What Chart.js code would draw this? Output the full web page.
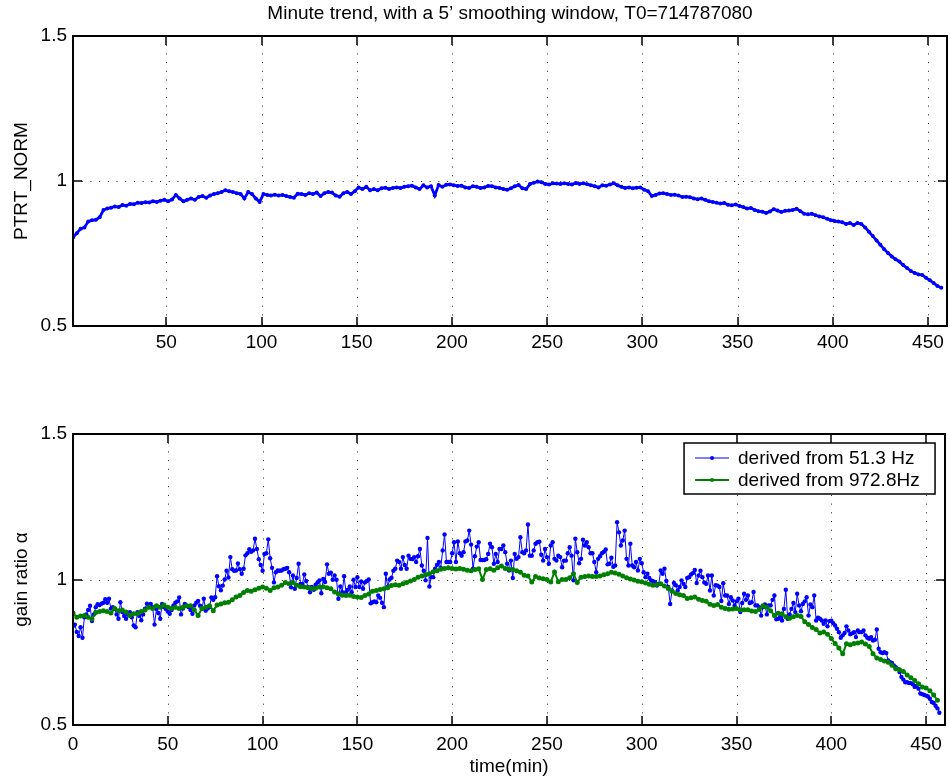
<!DOCTYPE html>
<html><head><meta charset="utf-8">
<script src="https://cdn.jsdelivr.net/npm/chart.js@4.4.1/dist/chart.umd.min.js"></script>
<style>
html,body{margin:0;padding:0;background:#fff;width:950px;height:781px;overflow:hidden}
#w1{position:absolute;left:0;top:0;width:950px;height:360px}
#w2{position:absolute;left:0;top:380px;width:950px;height:401px}
</style></head><body>
<div id="w1"><canvas id="c1"></canvas></div>
<div id="w2"><canvas id="c2"></canvas></div>
<script>
// ---------- DATA ----------
const chartTitle = "Minute trend, with a 5\u2019 smoothing window, T0=714787080";
const topYLabel = "PTRT_NORM";
const bottomYLabel = "gain ratio \u03b1";
const bottomXLabel = "time(min)";
const seriesNames = ["derived from 51.3 Hz", "derived from 972.8Hz"];

const xTicksTop = [50, 100, 150, 200, 250, 300, 350, 400, 450];
const xTicksBottom = [0, 50, 100, 150, 200, 250, 300, 350, 400, 450];
const yTicks = [0.5, 1, 1.5];
const yTickLabels = ["0.5", "1", "1.5"];

// top panel: minutes and PTRT_NORM
const topMinutes = [
  1,3,5,7,9,11,13,15,17,19,
  21,23,25,27,29,31,33,35,37,39,41,43,45,47,49,
  51,53,55,57,59,61,63,65,67,69,71,73,75,77,79,81,83,85,87,89,91,93,95,97,99,
  101,103,105,107,109,111,113,115,117,119,121,123,125,127,129,131,133,135,137,139,141,143,145,147,149,
  151,153,155,157,159,161,163,165,167,169,171,173,175,177,179,181,183,185,187,189,191,193,195,197,199,
  201,203,205,207,209,211,213,215,217,219,221,223,225,227,229,231,233,235,237,239,241,243,245,247,249,
  251,253,255,257,259,261,263,265,267,269,271,273,275,277,279,281,283,285,287,289,291,293,295,297,299,
  301,303,305,307,309,311,313,315,317,319,321,323,325,327,329,331,333,335,337,339,341,343,345,347,349,
  351,353,355,357,359,361,363,365,367,369,371,373,375,377,379,381,383,385,387,389,391,393,395,397,399,
  401,403,405,407,409,411,413,415,417,419,421,423,425,427,429,431,433,435,437,439,441,443,445,447,449,451,453,455,457
];
const ptrtNorm = [
  0.805,0.82,0.835,0.84,0.86,0.865,0.866,0.875,0.90,0.905,
  0.908,0.912,0.91,0.917,0.915,0.921,0.92,0.925,0.924,0.927,0.926,0.93,0.928,0.932,0.935,
  0.93,0.936,0.952,0.94,0.93,0.935,0.94,0.935,0.945,0.948,0.942,0.95,0.955,0.958,0.962,0.968,0.965,0.962,0.958,0.955,0.94,0.962,0.955,0.94,0.928,
  0.955,0.952,0.95,0.953,0.95,0.952,0.948,0.945,0.942,0.956,0.955,0.952,0.958,0.955,0.96,0.948,0.958,0.962,0.96,0.95,0.946,0.958,0.962,0.955,0.965,
  0.978,0.972,0.98,0.968,0.972,0.968,0.975,0.977,0.972,0.976,0.978,0.976,0.98,0.982,0.984,0.978,0.972,0.985,0.978,0.982,0.95,0.986,0.98,0.987,0.988,
  0.985,0.983,0.984,0.978,0.976,0.982,0.98,0.976,0.978,0.983,0.982,0.978,0.976,0.972,0.97,0.975,0.982,0.986,0.975,0.972,0.99,0.994,0.998,0.996,0.99,
  0.988,0.992,0.991,0.99,0.992,0.99,0.988,0.993,0.99,0.992,0.989,0.985,0.982,0.978,0.985,0.984,0.988,0.992,0.985,0.98,0.976,0.978,0.975,0.977,0.978,
  0.97,0.965,0.948,0.952,0.957,0.958,0.955,0.952,0.953,0.95,0.945,0.946,0.944,0.94,0.937,0.94,0.935,0.93,0.928,0.925,0.922,0.924,0.918,0.916,0.919,
  0.914,0.91,0.905,0.907,0.9,0.896,0.894,0.89,0.895,0.903,0.898,0.893,0.897,0.898,0.9,0.904,0.896,0.887,0.885,0.887,0.882,0.878,0.875,0.87,0.865,
  0.862,0.86,0.858,0.852,0.855,0.848,0.855,0.852,0.84,0.825,0.81,0.795,0.78,0.765,0.752,0.74,0.73,0.722,0.71,0.7,0.69,0.683,0.678,0.676,0.666,0.658,0.648,0.638,0.632
];

// bottom panel, 51.3 Hz series: one sample per minute
const minutes51Hz = [
  0,1,2,3,4,5,6,7,8,9,10,11,12,13,14,15,16,17,18,19,20,21,22,23,24,
  25,26,27,28,29,30,31,32,33,34,35,36,37,38,39,40,41,42,43,44,45,46,47,48,49,
  50,51,52,53,54,55,56,57,58,59,60,61,62,63,64,65,66,67,68,69,70,71,72,73,74,
  75,76,77,78,79,80,81,82,83,84,85,86,87,88,89,90,91,92,93,94,95,96,97,98,99,
  100,101,102,103,104,105,106,107,108,109,110,111,112,113,114,115,116,117,118,119,120,121,122,123,124,
  125,126,127,128,129,130,131,132,133,134,135,136,137,138,139,140,141,142,143,144,145,146,147,148,149,
  150,151,152,153,154,155,156,157,158,159,160,161,162,163,164,165,166,167,168,169,170,171,172,173,174,
  175,176,177,178,179,180,181,182,183,184,185,186,187,188,189,190,191,192,193,194,195,196,197,198,199,
  200,201,202,203,204,205,206,207,208,209,210,211,212,213,214,215,216,217,218,219,220,221,222,223,224,
  225,226,227,228,229,230,231,232,233,234,235,236,237,238,239,240,241,242,243,244,245,246,247,248,249,
  250,251,252,253,254,255,256,257,258,259,260,261,262,263,264,265,266,267,268,269,270,271,272,273,274,
  275,276,277,278,279,280,281,282,283,284,285,286,287,288,289,290,291,292,293,294,295,296,297,298,299,
  300,301,302,303,304,305,306,307,308,309,310,311,312,313,314,315,316,317,318,319,320,321,322,323,324,
  325,326,327,328,329,330,331,332,333,334,335,336,337,338,339,340,341,342,343,344,345,346,347,348,349,
  350,351,352,353,354,355,356,357,358,359,360,361,362,363,364,365,366,367,368,369,370,371,372,373,374,
  375,376,377,378,379,380,381,382,383,384,385,386,387,388,389,390,391,392,393,394,395,396,397,398,399,
  400,401,402,403,404,405,406,407,408,409,410,411,412,413,414,415,416,417,418,419,420,421,422,423,424,
  425,426,427,428,429,430,431,432,433,434,435,436,437,438,439,440,441,442,443,444,445,446,447,448,449,
  450,451,452,453,454,455,456,457
];
const gain51Hz = [
  0.84,0.845,0.82,0.806,0.836,0.80,0.87,0.88,0.895,0.91,0.857,0.88,0.905,0.915,0.912,0.917,0.92,0.932,0.92,0.934,0.90,0.905,0.90,0.88,0.865,
  0.922,0.888,0.875,0.865,0.88,0.888,0.87,0.842,0.836,0.888,0.875,0.86,0.88,0.90,0.917,0.91,0.916,0.905,0.845,0.899,0.885,0.865,0.916,0.905,0.899,
  0.89,0.882,0.895,0.911,0.92,0.925,0.938,0.88,0.90,0.916,0.91,0.905,0.895,0.882,0.911,0.92,0.926,0.91,0.899,0.934,0.893,0.90,0.905,0.938,0.93,
  0.939,1.011,0.977,0.963,0.979,1.0,1.03,1.007,1.077,1.035,1.03,1.031,1.055,1.035,1.02,1.037,1.083,1.09,1.104,1.095,1.10,1.14,1.105,1.07,1.05,
  1.03,1.088,1.09,1.138,1.073,1.04,0.99,1.025,1.031,1.03,1.031,1.035,1.037,1.04,1.025,0.973,1.014,0.968,1.005,1.054,0.985,0.985,1.017,0.995,0.974,
  0.956,0.974,0.965,0.982,0.99,0.997,0.953,1.002,0.991,1.052,1.02,1.023,0.999,1.014,0.999,0.934,0.976,0.956,1.011,0.956,0.965,0.976,0.956,0.999,0.974,
  1.008,0.974,0.993,0.968,0.99,0.995,1.0,0.918,0.922,0.925,0.922,0.945,0.937,0.92,0.905,1.02,0.974,1.0,1.006,1.03,1.037,1.065,1.06,1.037,1.077,
  1.05,1.037,1.082,1.071,1.07,1.077,1.06,1.08,1.105,1.048,1.03,0.997,1.143,0.976,1.008,1.008,1.037,1.05,1.06,1.04,1.10,1.155,1.06,1.06,1.06,
  1.09,1.128,1.06,1.131,1.09,1.082,1.094,1.131,1.134,1.168,1.12,1.037,1.08,1.113,1.128,1.067,1.067,1.067,1.07,1.088,1.123,1.111,1.054,1.088,1.06,
  1.105,1.105,1.117,1.094,1.054,1.031,1.065,1.005,1.088,1.071,1.077,1.145,1.094,1.09,1.10,1.189,1.082,1.082,1.10,1.123,1.128,1.13,1.085,1.065,1.105,
  1.077,1.054,1.117,1.128,1.071,1.065,1.082,1.077,1.042,1.065,1.065,1.09,1.111,1.082,0.997,1.14,1.094,1.056,1.071,1.137,1.117,1.128,1.111,1.09,1.09,
  1.06,1.025,1.071,1.08,1.09,1.095,1.103,1.052,1.054,1.075,1.044,1.048,1.197,1.162,1.117,1.134,1.168,1.071,1.048,1.123,1.048,1.042,1.06,1.031,1.071,
  1.056,1.025,1.008,1.02,1.005,0.997,0.994,0.991,0.979,0.985,1.031,1.02,1.037,0.995,0.974,0.916,0.962,0.988,0.98,0.962,0.974,0.997,0.985,0.974,1.005,
  1.008,1.017,1.022,1.033,0.988,1.014,1.03,1.008,0.99,0.985,1.014,0.962,1.014,0.945,0.98,0.979,0.974,0.926,0.987,0.945,0.945,0.916,0.939,0.928,0.911,
  0.925,0.934,0.888,0.919,0.951,0.93,0.945,0.919,0.922,0.957,0.911,0.911,0.905,0.876,0.905,0.914,0.88,0.911,0.911,0.93,0.945,0.863,0.865,0.871,0.859,
  0.899,0.965,0.865,0.88,0.899,0.919,0.888,0.951,0.911,0.891,0.916,0.925,0.939,0.876,0.914,0.905,0.945,0.859,0.869,0.865,0.859,0.848,0.859,0.839,0.857,
  0.858,0.85,0.842,0.831,0.819,0.80,0.808,0.816,0.839,0.825,0.812,0.815,0.819,0.802,0.825,0.819,0.819,0.825,0.808,0.80,0.796,0.802,0.79,0.793,0.828,
  0.762,0.75,0.747,0.75,0.747,0.722,0.716,0.713,0.705,0.699,0.693,0.682,0.665,0.656,0.647,0.647,0.644,0.644,0.64,0.631,0.634,0.625,0.608,0.606,0.603,
  0.601,0.598,0.59,0.579,0.576,0.566,0.557,0.542
];

// bottom panel, 972.8 Hz series: one sample every two minutes
const minutes972Hz = [
  0,2,4,6,8,10,12,14,16,18,20,22,24,26,28,30,32,34,36,38,40,42,44,46,48,
  50,52,54,56,58,60,62,64,66,68,70,72,74,76,78,80,82,84,86,88,90,92,94,96,98,
  100,102,104,106,108,110,112,114,116,118,120,122,124,126,128,130,132,134,136,138,140,142,144,146,148,
  150,152,154,156,158,160,162,164,166,168,170,172,174,176,178,180,182,184,186,188,190,192,194,196,198,
  200,202,204,206,208,210,212,214,216,218,220,222,224,226,228,230,232,234,236,238,240,242,244,246,248,
  250,252,254,256,258,260,262,264,266,268,270,272,274,276,278,280,282,284,286,288,290,292,294,296,298,
  300,302,304,306,308,310,312,314,316,318,320,322,324,326,328,330,332,334,336,338,340,342,344,346,348,
  350,352,354,356,358,360,362,364,366,368,370,372,374,376,378,380,382,384,386,388,390,392,394,396,398,
  400,402,404,406,408,410,412,414,416,418,420,422,424,426,428,430,432,434,436,438,440,442,444,446,448,
  450,452,454,456
];
const gain972Hz = [
  0.885,0.87,0.875,0.876,0.87,0.864,0.887,0.89,0.893,0.89,0.885,0.9,0.893,0.895,0.888,0.876,0.882,0.882,0.89,0.895,0.905,0.9,0.91,0.905,0.912,
  0.905,0.9,0.905,0.9,0.905,0.91,0.91,0.895,0.876,0.9,0.905,0.91,0.893,0.912,0.916,0.92,0.922,0.93,0.94,0.945,0.955,0.962,0.96,0.965,0.97,
  0.974,0.97,0.962,0.972,0.974,0.98,0.99,0.985,0.99,0.98,0.975,0.974,0.972,0.968,0.97,0.974,0.975,0.972,0.968,0.957,0.95,0.946,0.945,0.946,0.942,
  0.94,0.938,0.945,0.95,0.96,0.962,0.966,0.968,0.972,0.979,0.982,0.98,0.985,0.99,0.995,1.0,1.008,1.012,1.016,1.02,1.027,1.03,1.035,1.038,1.04,
  1.038,1.036,1.038,1.035,1.032,1.03,1.034,1.037,1.0,1.034,1.037,1.032,1.04,1.046,1.038,1.035,1.034,1.03,1.025,1.015,1.012,0.991,1.01,1.005,1.003,
  1.0,0.991,1.026,0.992,1.0,1.0,1.006,1.02,0.99,1.008,1.01,1.012,1.01,1.01,1.012,1.016,1.02,1.025,1.022,1.018,1.012,1.006,1.002,0.998,0.994,
  0.992,0.988,0.984,0.98,0.982,0.985,0.978,0.969,0.96,0.952,0.948,0.945,0.935,0.937,0.94,0.932,0.928,0.925,0.915,0.911,0.914,0.905,0.9,0.898,0.899,
  0.9,0.895,0.896,0.896,0.892,0.89,0.897,0.91,0.905,0.893,0.876,0.884,0.882,0.872,0.867,0.872,0.876,0.873,0.855,0.845,0.835,0.828,0.816,0.82,0.812,
  0.797,0.78,0.765,0.745,0.779,0.776,0.78,0.782,0.785,0.778,0.77,0.745,0.73,0.725,0.72,0.716,0.705,0.693,0.69,0.684,0.672,0.662,0.653,0.642,0.631,
  0.627,0.618,0.603,0.585
];

// ---------- STYLE ----------
const FONT = "'Liberation Sans', Arial, Helvetica, sans-serif";
const FS = 19;
const BLUE = '#0000ff';
const GREEN = '#008000';

function pts(xs, ys) { return xs.map((x, i) => ({ x: x, y: ys[i] })); }

const matlabAxes = {
  id: 'matlabAxes',
  beforeDatasetsDraw(chart) {
    const { ctx, chartArea: a, scales: { x, y } } = chart;
    ctx.save();
    ctx.strokeStyle = '#222';
    ctx.lineWidth = 1;
    ctx.setLineDash([1, 7.7]);
    ctx.beginPath();
    x.ticks.forEach(t => {
      const px = Math.round(x.getPixelForValue(t.value)) + 0.5;
      if (px > a.left + 3 && px < a.right - 3) { ctx.moveTo(px, a.top); ctx.lineTo(px, a.bottom); }
    });
    y.ticks.forEach(t => {
      const py = Math.round(y.getPixelForValue(t.value)) + 0.5;
      if (py > a.top + 3 && py < a.bottom - 3) { ctx.moveTo(a.left, py); ctx.lineTo(a.right, py); }
    });
    ctx.stroke();
    ctx.restore();
  },
  afterDatasetsDraw(chart) {
    const { ctx, chartArea: a, scales: { x, y } } = chart;
    const L = 9;
    ctx.save();
    ctx.strokeStyle = '#000';
    ctx.lineWidth = 1.5;
    ctx.setLineDash([]);
    ctx.beginPath();
    x.ticks.forEach(t => {
      const px = Math.round(x.getPixelForValue(t.value));
      if (px > a.left + 3 && px < a.right - 3) {
        ctx.moveTo(px, a.bottom); ctx.lineTo(px, a.bottom - L);
        ctx.moveTo(px, a.top); ctx.lineTo(px, a.top + L);
      }
    });
    y.ticks.forEach(t => {
      const py = Math.round(y.getPixelForValue(t.value));
      if (py > a.top + 3 && py < a.bottom - 3) {
        ctx.moveTo(a.left, py); ctx.lineTo(a.left + L, py);
        ctx.moveTo(a.right, py); ctx.lineTo(a.right - L, py);
      }
    });
    ctx.stroke();
    ctx.lineWidth = 2;
    ctx.strokeRect(Math.round(a.left), Math.round(a.top), Math.round(a.right - a.left), Math.round(a.bottom - a.top));
    ctx.restore();
  }
};

const boxLegend = {
  id: 'boxLegend',
  afterDraw(chart) {
    const { ctx, chartArea: a } = chart;
    const w = 251, h = 51;
    const left = a.right - 10 - w, top = a.top + 9;
    ctx.save();
    ctx.fillStyle = '#fff';
    ctx.fillRect(left, top, w, h);
    ctx.strokeStyle = '#000';
    ctx.lineWidth = 1.5;
    ctx.strokeRect(left, top, w, h);
    ctx.font = FS + 'px ' + FONT;
    ctx.textBaseline = 'middle';
    ctx.textAlign = 'left';
    chart.data.datasets.forEach((ds, i) => {
      const yy = top + 15 + i * 22;
      ctx.strokeStyle = ds.borderColor;
      ctx.lineWidth = ds.borderWidth;
      ctx.beginPath(); ctx.moveTo(left + 11, yy); ctx.lineTo(left + 45, yy); ctx.stroke();
      ctx.fillStyle = ds.borderColor;
      ctx.beginPath(); ctx.arc(left + 28, yy, 2, 0, Math.PI * 2); ctx.fill();
      ctx.fillStyle = '#000';
      ctx.fillText(ds.label, left + 54, yy + 1);
    });
    ctx.restore();
  }
};

function xScale(min, tickList, height, pad, titleText) {
  return {
    type: 'linear', position: 'bottom', min: min, max: 460,
    afterBuildTicks: s => { s.ticks = tickList.map(v => ({ value: v })); },
    afterFit: s => { s.height = height; },
    ticks: { font: { family: FONT, size: FS }, color: '#000', padding: pad, maxRotation: 0, autoSkip: false, callback: v => String(v) },
    grid: { display: false, drawTicks: false },
    border: { display: false },
    title: titleText ? { display: true, text: titleText, font: { family: FONT, size: FS }, color: '#000', padding: { top: 0, bottom: 3 } } : { display: false }
  };
}
function yScale(titleText) {
  return {
    type: 'linear', min: 0.5, max: 1.5,
    afterBuildTicks: s => { s.ticks = yTicks.map(v => ({ value: v })); },
    afterFit: s => { s.width = 73; },
    ticks: { font: { family: FONT, size: FS }, color: '#000', padding: 6, callback: v => yTickLabels[yTicks.indexOf(v)] },
    grid: { display: false, drawTicks: false },
    border: { display: false },
    title: { display: true, text: titleText, font: { family: FONT, size: FS }, color: '#000', padding: { top: 10, bottom: 0 } }
  };
}

Chart.defaults.font.family = FONT;

new Chart(document.getElementById('c1'), {
  type: 'line',
  data: {
    datasets: [{
      label: topYLabel,
      data: pts(topMinutes, ptrtNorm),
      borderColor: BLUE, backgroundColor: BLUE,
      borderWidth: 2.8, pointRadius: 2, pointBorderWidth: 0, pointHoverRadius: 0, tension: 0
    }]
  },
  options: {
    responsive: true, maintainAspectRatio: false, animation: false, events: [],
    layout: { padding: { left: 0, right: 3, top: 0, bottom: 0 } },
    plugins: {
      legend: { display: false }, tooltip: { enabled: false },
      title: { display: true, fullSize: false, text: chartTitle, color: '#000', font: { family: FONT, size: FS, weight: 'normal' }, padding: { top: 2, bottom: 11.2 } }
    },
    scales: { x: xScale(1, xTicksTop, 34, 5, null), y: yScale(topYLabel) }
  },
  plugins: [matlabAxes]
});

new Chart(document.getElementById('c2'), {
  type: 'line',
  data: {
    datasets: [{
      label: seriesNames[0],
      data: pts(minutes51Hz, gain51Hz),
      borderColor: BLUE, backgroundColor: BLUE,
      borderWidth: 1, pointRadius: 2.2, pointBorderWidth: 0, pointHoverRadius: 0, tension: 0, order: 2
    }, {
      label: seriesNames[1],
      data: pts(minutes972Hz, gain972Hz),
      borderColor: GREEN, backgroundColor: GREEN,
      borderWidth: 2, pointRadius: 2.5, pointBorderWidth: 0, pointHoverRadius: 0, tension: 0, order: 1
    }]
  },
  options: {
    responsive: true, maintainAspectRatio: false, animation: false, events: [],
    layout: { padding: { left: 0, right: 3, top: 54, bottom: 0 } },
    plugins: { legend: { display: false }, tooltip: { enabled: false }, title: { display: false } },
    scales: { x: xScale(0, xTicksBottom, 56, 8, bottomXLabel), y: yScale(bottomYLabel) }
  },
  plugins: [matlabAxes, boxLegend]
});
</script>
</body></html>
